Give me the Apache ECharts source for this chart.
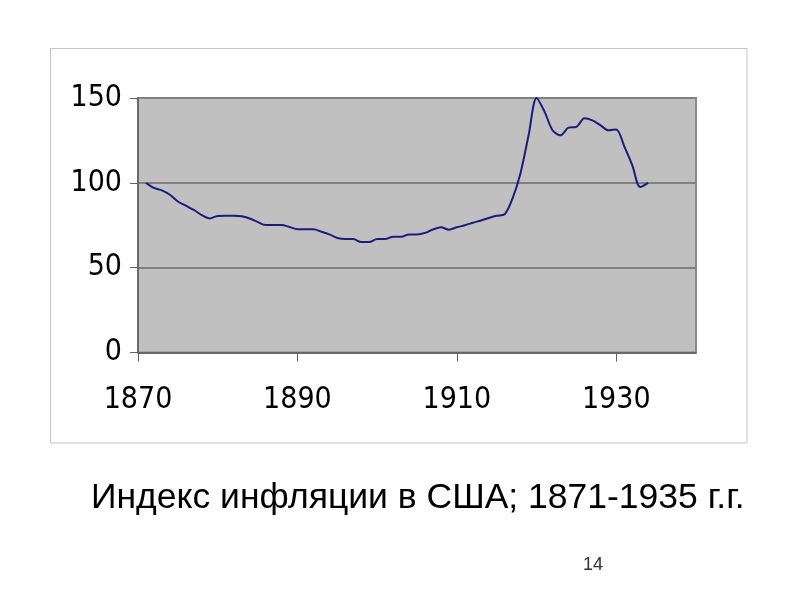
<!DOCTYPE html>
<html>
<head>
<meta charset="utf-8">
<script src="https://cdn.jsdelivr.net/npm/echarts@6/dist/echarts.min.js"></script>
<style>
  html, body { margin: 0; padding: 0; background: #ffffff; }
  #inflation-chart { width: 800px; height: 600px; }
</style>
</head>
<body>
<div id="inflation-chart"></div>
<script>
  var years = [];
  for (var y = 1871; y <= 1934; y++) years.push(y);

  var inflationIndex = [
    100, 97, 95.6, 93, 89, 86.5, 84, 81, 79, 80.5,
    80.6, 80.6, 80.3, 79, 77, 75.1, 75.1, 75.1, 74, 72.6,
    72.6, 72.6, 71.2, 69.6, 67.5, 66.9, 66.9, 65.1, 65.1, 66.9,
    66.9, 68.2, 68.2, 69.6, 69.6, 70.5, 72.5, 73.8, 72.4, 73.8,
    75, 76.5, 77.8, 79.3, 80.6, 81.5, 91, 106, 128, 150,
    142, 131, 128, 132.5, 133, 138, 136.8, 134, 131, 131.5,
    121.5, 110.5, 97.5, 100
  ];

  var xTicks = [1870, 1890, 1910, 1930];
  var yTicks = [0, 50, 100, 150];

  var titleText = 'Индекс инфляции в США; 1871-1935 г.г.';
  var pageNumber = '14';

  var chartDom = document.getElementById('inflation-chart');
  var myChart = echarts.init(chartDom);
  var option;

  var points = years.map(function (yr, i) { return [yr, inflationIndex[i]]; });
  var labelFont = '"Liberation Sans Narrow", "DejaVu Sans Condensed", sans-serif';

  option = {
    animation: false,
    backgroundColor: '#ffffff',
    grid: {
      left: 138,
      top: 98,
      right: 104,
      bottom: 247.5,
      show: true,
      backgroundColor: '#c0c0c0',
      borderColor: '#8a8a8a',
      borderWidth: 2
    },
    xAxis: {
      type: 'value',
      min: 1870,
      max: 1940,
      axisLine: { lineStyle: { color: '#606060', width: 1.5 } },
      axisTick: { show: true, length: 9, customValues: xTicks, lineStyle: { color: '#606060' } },
      axisLabel: {
        customValues: xTicks,
        formatter: function (v) { return String(v); },
        margin: 33,
        color: '#000000',
        fontFamily: labelFont,
        fontSize: 30
      },
      splitLine: { show: false }
    },
    yAxis: {
      type: 'value',
      min: yTicks[0],
      max: yTicks[yTicks.length - 1],
      interval: 50,
      axisLine: { show: true, lineStyle: { color: '#606060', width: 1.5 } },
      axisTick: { show: true, length: 8, lineStyle: { color: '#606060' } },
      axisLabel: {
        margin: 16,
        color: '#000000',
        fontFamily: labelFont,
        fontSize: 30
      },
      splitLine: { show: true, lineStyle: { color: '#808080', width: 2 } }
    },
    series: [
      {
        name: 'inflation',
        type: 'line',
        data: points,
        smooth: 0.3,
        showSymbol: false,
        lineStyle: { color: '#1c1c7a', width: 2 }
      }
    ],
    graphic: [
      {
        type: 'rect',
        shape: { x: 50.5, y: 48.5, width: 696.5, height: 394.5 },
        style: { fill: 'none', stroke: '#c4c4c4', lineWidth: 1 },
        z: -1
      },
      {
        type: 'text',
        left: 91,
        top: 480,
        style: {
          text: titleText,
          fill: '#000000',
          font: '35.5px "Liberation Sans", Arial, sans-serif'
        }
      },
      {
        type: 'text',
        left: 583,
        top: 556,
        style: {
          text: pageNumber,
          fill: '#333333',
          font: '18px "Liberation Sans", Arial, sans-serif'
        }
      }
    ]
  };
  option && myChart.setOption(option);
</script>
</body>
</html>
